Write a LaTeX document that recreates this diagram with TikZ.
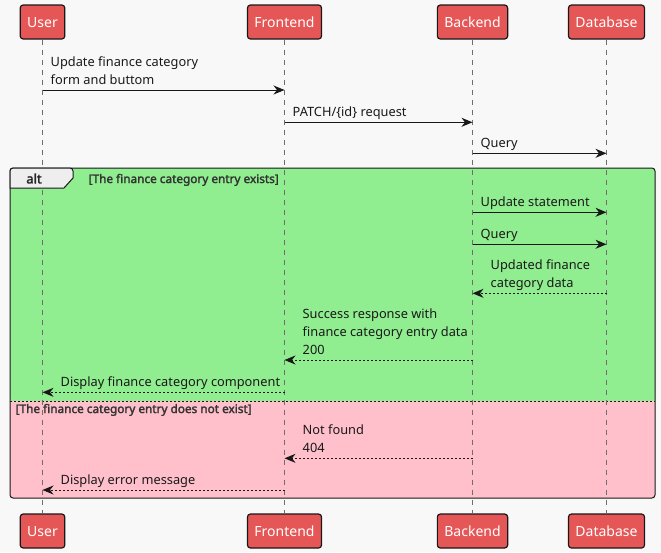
\documentclass[tikz,border=0pt]{standalone}
\usepackage{fontspec}
\setmainfont{Noto Sans}
\newfontfamily\fbold{Noto Sans}[FakeBold=2.2]
\usetikzlibrary{arrows.meta}
\definecolor{bgc}{HTML}{F8F8F8}
\definecolor{partc}{HTML}{E55757}
\definecolor{edgec}{HTML}{181818}
\definecolor{altgreen}{HTML}{90EE90}
\definecolor{altpink}{HTML}{FFC0CB}
\definecolor{tabc}{HTML}{EEEEEE}
\definecolor{guardc}{HTML}{333333}
\definecolor{lifec}{HTML}{6E6E6E}
\tikzset{
  participant/.style={draw=edgec, line width=1.2pt, fill=partc, rounded corners=3pt,
    text=white, font=\fontsize{14}{16}\selectfont, minimum height=34pt, inner xsep=7pt, inner ysep=0pt, text depth=0pt, text height=10pt},
  lifeline/.style={draw=lifec, line width=0.6pt, dash pattern=on 5pt off 5pt},
  msg/.style={draw=edgec, line width=1pt, -{Stealth[length=11pt,width=9pt,inset=3.5pt]}},
  reply/.style={msg, dash pattern=on 2pt off 2pt},
  msglabel/.style={font=\fontsize{12.8}{18}\selectfont, align=left, inner sep=0pt, anchor=base west, text=black!90},
  guard/.style={font=\fbold\fontsize{11.8}{13}\selectfont, text=guardc, inner sep=0pt, anchor=base west},
}
\begin{document}
\begin{tikzpicture}[x=1pt, y=-1pt]
\fill[bgc] (0,0) rectangle (661,552);
\useasboundingbox (0,0) rectangle (661,552);
% participants
\node[participant] (u) at (42.5,22) {User};
\node[participant] (f) at (284.5,22) {Frontend};
\node[participant] (b) at (472.5,22) {Backend};
\node[participant] (d) at (606.5,22) {Database};
\node[participant] (u2) at (42.5,531) {User};
\node[participant] (f2) at (284.5,531) {Frontend};
\node[participant] (b2) at (472.5,531) {Backend};
\node[participant] (d2) at (606.5,531) {Database};
% alt frame
\coordinate (ftl) at (10,168);
\coordinate (fbr) at (655,498);
\coordinate (sepl) at (10,401);
\coordinate (sepr) at (655,401);
\fill[altgreen, rounded corners=3pt] (10,401) -- (10,168) -- (655,168) -- (655,401) -- cycle;
\fill[altpink, rounded corners=3pt] (10,401) -- (10,498) -- (655,498) -- (655,401) -- cycle;
\fill[altgreen] (10.5,395) rectangle (654.5,401);
\draw[edgec, line width=1pt, rounded corners=3pt] (ftl) rectangle (fbr);
\draw[edgec, line width=0.6pt, dash pattern=on 2pt off 2pt] (sepl) -- (sepr);
% lifelines
\draw[lifeline] (u) -- (u2);
\draw[lifeline] (f) -- (f2);
\draw[lifeline] (b) -- (b2);
\draw[lifeline] (d) -- (d2);
% tab
\draw[edgec, line width=1pt, fill=tabc] (10,188) -- (10,171) [rounded corners=3pt] -- (10,168) -- (73,168) [sharp corners] -- (73,178) -- (64,188) -- cycle;
\node[font=\fbold\fontsize{13}{15}\selectfont, text=black!85, inner sep=0pt] (alt) at (34,178.5) {alt};
\node[guard] (g1) at (88.5,183) {[The finance category entry exists]};
\node[guard] (g2) at (15.5,413) {[The finance category entry does not exist]};
% messages
\draw[msg] (u |- 0,90) -- (f |- 0,90);
\node[msglabel] (l1) at (50.5,84.5) {Update finance category\\form and buttom};
\draw[msg] (f |- 0,122.3) -- (b |- 0,122.3);
\node[msglabel] (l2) at (292.5,116.5) {PATCH/\{id\} request};
\draw[msg] (b |- 0,153.3) -- (d |- 0,153.3);
\node[msglabel] (l3) at (480.5,147.5) {Query};
\draw[msg] (b |- 0,212.3) -- (d |- 0,212.3);
\node[msglabel] (l4) at (480.5,206.5) {Update statement};
\draw[msg] (b |- 0,244.3) -- (d |- 0,244.3);
\node[msglabel] (l5) at (480.5,238.5) {Query};
\draw[reply] (d |- 0,293.3) -- (b |- 0,293.3);
\node[msglabel] (l6) at (490.5,287.5) {Updated finance\\category data};
\draw[reply] (b |- 0,360) -- (f |- 0,360);
\node[msglabel] (l7) at (302.5,354.3) {Success response with\\finance category entry data\\200};
\draw[reply] (f |- 0,392.3) -- (u |- 0,392.3);
\node[msglabel] (l8) at (60.5,386.5) {Display finance category component};
\draw[reply] (b |- 0,458.3) -- (f |- 0,458.3);
\node[msglabel] (l9) at (302.5,452.7) {Not found\\404};
\draw[reply] (f |- 0,490) -- (u |- 0,490);
\node[msglabel] (l10) at (60.5,484.3) {Display error message};
\end{tikzpicture}
\end{document}
